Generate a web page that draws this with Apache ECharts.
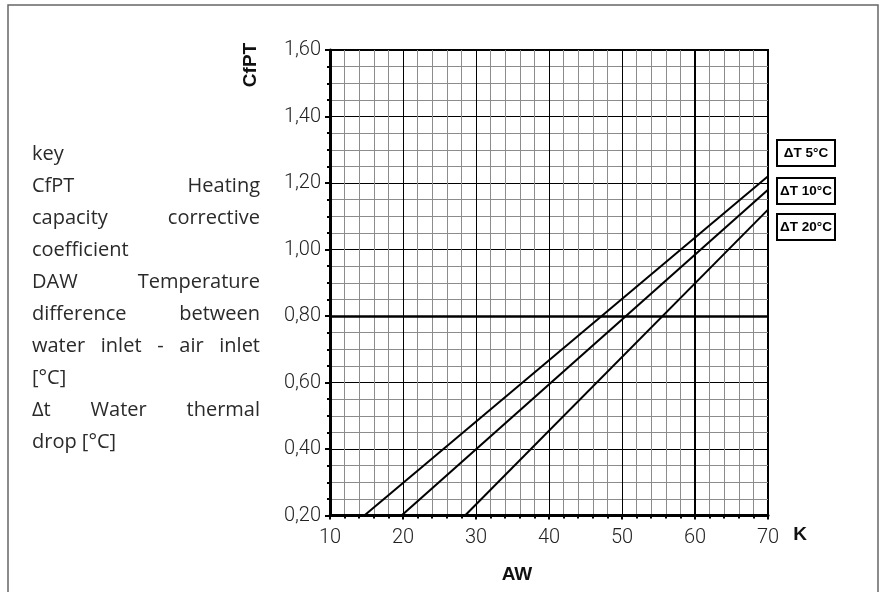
<!DOCTYPE html>
<html>
<head>
<meta charset="utf-8">
<script src="https://cdn.jsdelivr.net/npm/echarts@6/dist/echarts.min.js"></script>
<style>
  html, body { margin: 0; padding: 0; background: #fff; }
  #chart { width: 883px; height: 592px; }
</style>
</head>
<body>
<div id="chart"></div>
<script>
// curves: CfPT against AW, one straight line per water thermal drop
const dtNames = ['ΔT 5°C', 'ΔT 10°C', 'ΔT 20°C'];
const dt5 = [[14.7, 0.20], [70, 1.22]];
const dt10 = [[19.8, 0.20], [70, 1.18]];
const dt20 = [[28.5, 0.20], [70, 1.12]];

// emphasised grid lines
const boldX = [60];
const boldY = [0.80];

// key text on the left, words per line; true = justified line
const keyLines = [
  ['key'],
  ['CfPT', 'Heating'],
  ['capacity', 'corrective'],
  ['coefficient'],
  ['DAW', 'Temperature'],
  ['difference', 'between'],
  ['water', 'inlet', '-', 'air', 'inlet'],
  ['[°C]'],
  ['Δt', 'Water', 'thermal'],
  ['drop', '[°C]']
];
const keyJustify = [false, true, true, false, true, true, true, false, true, false];

const chart = echarts.init(document.getElementById('chart'), null, { renderer: 'canvas' });

const keyFont = '20px "Open Sans"';
const cnv = document.createElement('canvas').getContext('2d');
cnv.font = keyFont;

let keyGraphics = [];
const keyLeft = 32, keyRight = 260;
keyLines.forEach((words, i) => {
  const y = 154 + i * 32;
  if (!keyJustify[i] || words.length < 2) {
    keyGraphics.push({
      type: 'text', x: keyLeft, y: y,
      style: { text: words.join(' '), font: keyFont, fill: '#2a2a2a', textVerticalAlign: 'middle' }
    });
    return;
  }
  const widths = words.map(w => cnv.measureText(w).width);
  const total = widths.reduce((a, b) => a + b, 0);
  const gap = (keyRight - keyLeft - total) / (words.length - 1);
  let x = keyLeft;
  words.forEach((w, j) => {
    keyGraphics.push({
      type: 'text', x: x, y: y,
      style: { text: w, font: keyFont, fill: '#2a2a2a', textVerticalAlign: 'middle' }
    });
    x += widths[j] + gap;
  });
});

const boxTops = [140, 178, 214];
let legendGraphics = [];
dtNames.forEach((name, i) => {
  legendGraphics.push({
    type: 'rect',
    shape: { x: 777, y: boxTops[i], width: 58, height: 26 },
    style: { fill: '#fff', stroke: '#000', lineWidth: 2 }
  });
  legendGraphics.push({
    type: 'text', x: 806, y: boxTops[i] + 13,
    style: {
      text: name, font: 'bold 13.5px "Liberation Sans Narrow", "Liberation Sans", Arial, sans-serif',
      fill: '#000', textAlign: 'center', textVerticalAlign: 'middle'
    }
  });
});

const titleFont = 'bold 19px "Liberation Sans Narrow", "Liberation Sans", Arial, sans-serif';

const lineSeries = (name, data) => ({
  name: name,
  type: 'line',
  data: data,
  symbol: 'none',
  lineStyle: { color: '#000', width: 2 },
  clip: true,
  silent: true,
  z: 5
});

const option = {
  animation: false,
  backgroundColor: '#fff',
  grid: {
    left: 330, top: 50, width: 438, height: 465.5,
    show: true, borderColor: '#000', borderWidth: 2, backgroundColor: '#fff'
  },
  xAxis: {
    type: 'value', min: 10, max: 70, interval: 10,
    axisLine: { show: true, lineStyle: { color: '#000', width: 3 } },
    axisTick: { show: true, length: 4, lineStyle: { color: '#000', width: 2 } },
    minorTick: { show: true, splitNumber: 5, length: 3, lineStyle: { color: '#000', width: 2 } },
    axisLabel: { color: '#222', fontFamily: 'Roboto', fontWeight: 300, fontSize: 20, margin: 12 },
    splitLine: { show: true, lineStyle: { color: '#000', width: 1 } },
    minorSplitLine: { show: true, lineStyle: { color: '#8c8c8c', width: 1 } }
  },
  yAxis: {
    type: 'value', min: 0.2, max: 1.6, interval: 0.2,
    axisLine: { show: true, lineStyle: { color: '#000', width: 3 } },
    axisTick: { show: true, length: 5, lineStyle: { color: '#000', width: 2 } },
    minorTick: { show: true, splitNumber: 4, length: 3, lineStyle: { color: '#000', width: 2 } },
    axisLabel: {
      color: '#222', fontFamily: 'Roboto', fontWeight: 300, fontSize: 20, margin: 9,
      formatter: v => v.toFixed(2).replace('.', ',')
    },
    splitLine: { show: true, lineStyle: { color: '#000', width: 1 } },
    minorSplitLine: { show: true, lineStyle: { color: '#8c8c8c', width: 1 } }
  },
  series: [
    Object.assign(lineSeries(dtNames[0], dt5), {
      markLine: {
        silent: true, symbol: 'none', label: { show: false },
        lineStyle: { color: '#000', width: 2, type: 'solid' },
        data: boldX.map(v => ({ xAxis: v, lineStyle: { width: 2 } }))
          .concat(boldY.map(v => ({ yAxis: v, lineStyle: { width: 2.5 } })))
      }
    }),
    lineSeries(dtNames[1], dt10),
    lineSeries(dtNames[2], dt20)
  ],
  graphic: [
    {
      type: 'rect', silent: true,
      shape: { x: 8, y: 5, width: 870, height: 620 },
      style: { fill: 'none', stroke: '#666', lineWidth: 1.5 }
    },
    {
      type: 'text', x: 251, y: 65, rotation: Math.PI / 2,
      style: { text: 'CfPT', font: titleFont, fill: '#111', textAlign: 'center', textVerticalAlign: 'middle' }
    },
    {
      type: 'text', x: 517, y: 575,
      style: { text: 'AW', font: titleFont, fill: '#111', textAlign: 'center', textVerticalAlign: 'middle' }
    },
    {
      type: 'text', x: 800, y: 535,
      style: { text: 'K', font: titleFont, fill: '#111', textAlign: 'center', textVerticalAlign: 'middle' }
    }
  ].concat(legendGraphics, keyGraphics)
};

chart.setOption(option);
</script>
</body>
</html>
